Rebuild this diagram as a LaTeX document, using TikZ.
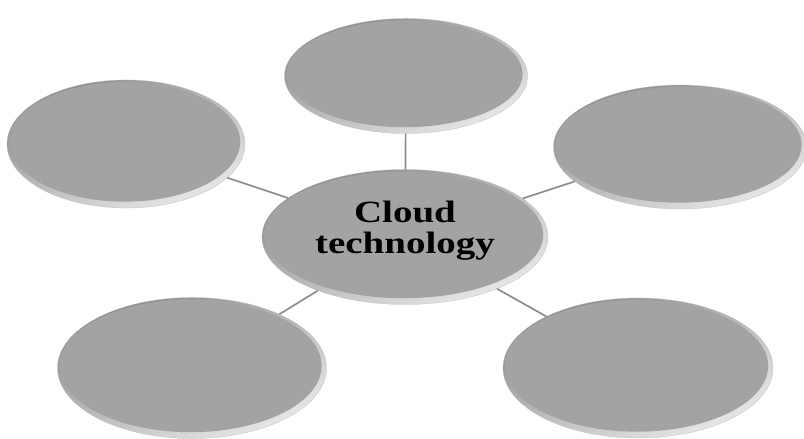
\documentclass[tikz,border=0pt]{standalone}
\usepackage{fontspec}
\setmainfont{Liberation Serif}
\usepackage{graphicx}
\usetikzlibrary{shapes.geometric}
\definecolor{facegray}{RGB}{163,163,163}
\definecolor{rimdark}{RGB}{140,140,140}
\definecolor{rimlight}{RGB}{232,232,232}
\definecolor{linkgray}{RGB}{140,140,140}
\tikzset{
  disc/.style 2 args = {ellipse, inner sep=0pt, minimum width=#1, minimum height=#2,
    draw=black!25, line width=0.2pt,
    top color=rimdark, bottom color=rimlight, shading angle=25,
    path picture={\fill[facegray] ([xshift=-1pt,yshift=1.5pt]path picture bounding box.center)
      ellipse [x radius=#1/2-2.5pt, y radius=#2/2-3pt];}},
  link/.style = {draw=linkgray, line width=1.2pt},
  hublabel/.style = {inner sep=0pt, font=\fontsize{22}{21.3}\selectfont\bfseries}
}

\begin{document}
\begin{tikzpicture}[x=0.025cm, y=-0.025cm]
  \useasboundingbox (0,0) rectangle (804,439);

  \node[disc={6.075cm}{2.875cm}] (top) at (406,76) {};
  \node[disc={5.95cm}{3.2cm}] (nw) at (126,144) {};
  \node[disc={6.325cm}{3.1cm}] (ne) at (680,147) {};
  \node[disc={6.725cm}{3.525cm}] (sw) at (192,368) {};
  \node[disc={6.75cm}{3.5cm}] (se) at (638,368) {};
  \node[disc={7.15cm}{3.375cm}] (hub) at (405,237) {};

  % spokes
  \foreach \n in {top, nw, ne, sw, se}
    \draw[link] (hub) -- (\n);

  \node[hublabel] (hubtext) at ([yshift=3.6pt]hub.center)
    {\scalebox{1.26}[1]{\begin{tabular}{@{}c@{}}Cloud\\technology\end{tabular}}};
\end{tikzpicture}
\end{document}
